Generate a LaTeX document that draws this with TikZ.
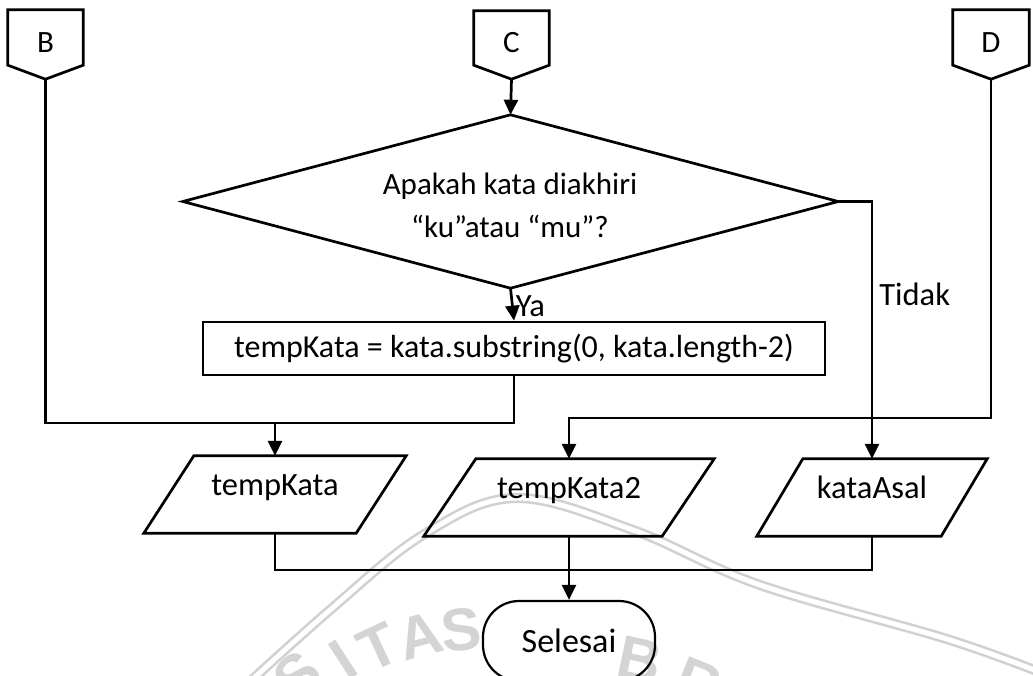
\documentclass[tikz,border=0pt]{standalone}
\usepackage{fontspec}
\setmainfont{Carlito}
\newfontfamily\wmfont{Liberation Sans}
\usetikzlibrary{arrows.meta,calc}

\tikzset{
  flow/.style={line width=2.7pt, line join=miter},
  arr/.style={flow, -{Triangle[length=15pt,width=14pt]}},
  frame/.style={inner sep=0pt, draw=none},
  txt/.style={font=\fontsize{31}{43}\selectfont, align=center},
  iotxt/.style={font=\fontsize{32.5}{40}\selectfont, text height=14pt, text depth=12pt},
  proc/.style={draw, line width=2.7pt, inner sep=0pt, font=\fontsize{32}{38}\selectfont},
  lbl/.style={font=\fontsize{32.5}{40}\selectfont},
  wmline/.style={draw=black!18, line width=2.6pt, double=white, double distance=5pt},
  wmletter/.style={text=black!17, font=\wmfont\bfseries\fontsize{60}{60}\selectfont, inner sep=0pt}
}

% parallelogram drawn on the frame of a node: #1 node name, #2 half slant
\newcommand{\slantbox}[2]{%
  \draw[flow] ([xshift=#2]#1.north west) -- ([xshift=#2]#1.north east)
    -- ([xshift=-#2]#1.south east) -- ([xshift=-#2]#1.south west) -- cycle;}

% off-page connector drawn on the frame of a node
\newcommand{\offpage}[1]{%
  \draw[flow] (#1.north west) -- (#1.north east) -- ([yshift=14pt]#1.south east)
    -- (#1.south) -- ([yshift=14pt]#1.south west) -- cycle;}

\begin{document}
\begin{tikzpicture}[x=1pt,y=-1pt]
\useasboundingbox (0,0) rectangle (1033,675);
\clip (0,0) rectangle (1033,675);
\fill[white] (0,0) rectangle (1033,675);

% faint seal in the background
\draw[wmline] plot[smooth, tension=0.6] coordinates
  {(230,700) (330,610) (423,535) (515,498) (633,530) (760,585) (950,640) (1060,680)};
\node[wmletter, rotate=42] (w1) at (298,676) {S};
\node[wmletter, rotate=33] (w2) at (343,660) {I};
\node[wmletter, rotate=25] (w3) at (378,647) {T};
\node[wmletter, rotate=15] (w4) at (420,636) {A};
\node[wmletter, rotate=6]  (w5) at (461,630) {S};
\node[wmletter, rotate=-12] (w6) at (640,660) {B};
\node[wmletter, rotate=-22] (w7) at (698,682) {R};

% off-page connectors
\node[frame, minimum width=75pt, minimum height=69pt] (B) at (45.5,44.5) {};
\node[frame, minimum width=75pt, minimum height=68pt] (C) at (511.5,45) {};
\node[frame, minimum width=76pt, minimum height=69pt] (D) at (991,44.5) {};
\offpage{B}\offpage{C}\offpage{D}
\node[txt] at ([yshift=2pt]B.center) {B};
\node[txt] at ([yshift=2pt]C.center) {C};
\node[txt] at ([yshift=2pt]D.center) {D};

% decision
\node[frame, minimum width=655pt, minimum height=173pt] (q) at (510.5,201.5) {};
\draw[flow] (q.north) -- (q.east) -- (q.south) -- (q.west) -- cycle;
\node[txt] (qt) at (510,205) {Apakah kata diakhiri\\“ku”atau “mu”?};

% process
\node[proc, minimum width=622pt, minimum height=53pt] (r) at (514,348.5)
  {tempKata = kata.substring(0, kata.length-2)};

% outputs
\node[frame, iotxt, minimum width=212pt, minimum height=77pt] (tk) at (275,494.5) {tempKata};
\node[frame, iotxt, minimum width=238pt, minimum height=77pt] (tk2) at (569,497.5) {tempKata2};
\node[frame, iotxt, minimum width=184pt, minimum height=77pt] (ka) at (872,497.5) {kataAsal};
\slantbox{tk}{25pt}\slantbox{tk2}{26pt}\slantbox{ka}{23pt}

% terminator
\node[draw, line width=2.2pt, rounded corners=36pt, minimum width=172pt, minimum height=80pt,
      font=\fontsize{34}{40}\selectfont] (end) at (569,641) {Selesai};

% junctions
\coordinate (jB) at (275,423);
\coordinate (jD) at (569,418);
\coordinate (jE) at (569,570);

% connectors
\draw[arr] (C.south) -- (q.north);
\draw[arr] (q.south) -- node[lbl, right, pos=0.55, inner sep=2pt] {Ya} (r.north);
\draw[arr] (q.east) -| node[lbl, right, pos=0.68, inner sep=6pt] {Tidak} (ka.north);
\draw[flow] (B.south) |- (jB);
\draw[arr] (r.south) |- (jB) -- (tk.north);
\draw[arr] (D.south) |- (jD) -- (tk2.north);
\draw[flow] (tk.south) |- (jE);
\draw[flow] (ka.south) |- (jE);
\draw[arr] (tk2.south) -- (end.north);
\end{tikzpicture}
\end{document}
